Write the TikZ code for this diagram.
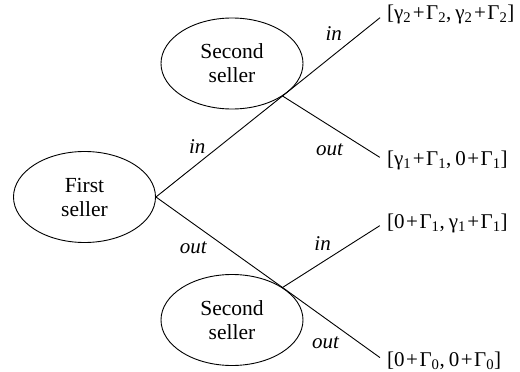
\documentclass[tikz,border=0pt]{standalone}
\usepackage{fontspec}
\setmainfont{Liberation Serif}
\usetikzlibrary{shapes.geometric}

\newcommand{\pl}{\kern1.5pt+\kern1.5pt}

\begin{document}
\begin{tikzpicture}[x=1pt, y=-1pt,
  seller/.style={ellipse, draw, line width=0.9pt, minimum width=142pt,
                 minimum height=91pt, inner sep=0pt, align=center,
                 font=\fontsize{21.5}{24}\selectfont},
  payoff/.style={anchor=west, inner sep=3pt, font=\fontsize{21}{25}\selectfont},
  move/.style={line width=0.9pt, shorten >=5pt},
  choice/.style={font=\fontsize{21}{24}\selectfont\itshape, inner sep=2pt}
]
\useasboundingbox (0,0) rectangle (520,372);

% players
\node[seller] (first) at (84.5,197) {First\\seller};
\node[seller] (sin)   at (232,63.5) {Second\\seller};
\node[seller] (sout)  at (232,320)  {Second\\seller};

% payoffs
\node[payoff] (p1) at (384,14.5)  {[γ\textsubscript{2}\pl Γ\textsubscript{2},\kern4pt γ\textsubscript{2}\pl Γ\textsubscript{2}]};
\node[payoff] (p2) at (384,160)   {[γ\textsubscript{1}\pl Γ\textsubscript{1},\kern4pt 0\pl Γ\textsubscript{1}]};
\node[payoff] (p3) at (384,223)   {[0\pl Γ\textsubscript{1},\kern4pt γ\textsubscript{1}\pl Γ\textsubscript{1}]};
\node[payoff] (p4) at (384,360.5) {[0\pl Γ\textsubscript{0},\kern4pt 0\pl Γ\textsubscript{0}]};

% moves of the first seller, running on through the second seller
\draw[move] (first.east) -- node[choice, pos=0.41, above left] {in} (sin.south east)
  -- node[choice, pos=0.61, above left, yshift=3pt] {in} (p1.west);
\draw[move] (first.east) -- node[choice, pos=0.42, below left, yshift=-4pt] {out} (sout.north east)
  -- node[choice, pos=0.58, below left, yshift=-4pt] {out} (p4.west);

% other moves of the second seller
\draw[move] (sin.south east) -- node[choice, pos=0.62, below left, yshift=-6pt] {out} (p2.west);
\draw[move] (sout.north east) -- node[choice, pos=0.5, above left, yshift=2pt] {in} (p3.west);

\end{tikzpicture}
\end{document}
